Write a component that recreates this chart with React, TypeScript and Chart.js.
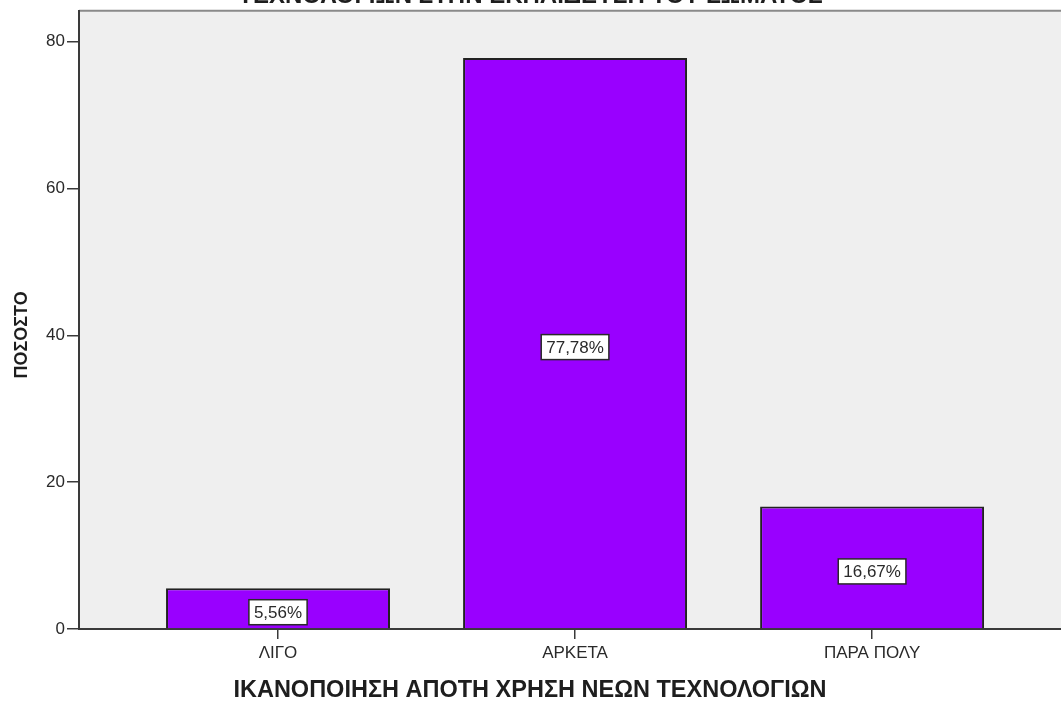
import React, { useEffect, useRef } from "react";
import { Chart, registerables } from "chart.js";

Chart.register(...registerables);

const categories = ["ΛΙΓΟ", "ΑΡΚΕΤΑ", "ΠΑΡΑ ΠΟΛΥ"];
const percentValues = [5.56, 77.78, 16.67];
const valueLabels = ["5,56%", "77,78%", "16,67%"];
const yTickValues = [0, 20, 40, 60, 80];
const chartTitle = "ΤΕΧΝΟΛΟΓΙΩΝ ΣΤΗΝ ΕΚΠΑΙΔΕΥΣΗ ΤΟΥ ΣΩΜΑΤΟΣ";
const xTitle = "ΙΚΑΝΟΠΟΙΗΣΗ ΑΠΟΤΗ ΧΡΗΣΗ ΝΕΩΝ ΤΕΧΝΟΛΟΓΙΩΝ";
const yTitle = "ΠΟΣΟΣΤΟ";

const FONT = "Arial, 'Liberation Sans', sans-serif";
const TOP_SHIFT = 20;

const bgPlugin = {
  id: "plotBg",
  beforeDraw(chart: any) {
    const { ctx, chartArea } = chart;
    ctx.save();
    ctx.fillStyle = "#efefef";
    ctx.fillRect(chartArea.left, chartArea.top, chartArea.right - chartArea.left, chartArea.bottom - chartArea.top);
    ctx.strokeStyle = "#8a8a8a";
    ctx.lineWidth = 2;
    ctx.beginPath();
    ctx.moveTo(chartArea.left, chartArea.top);
    ctx.lineTo(chartArea.right, chartArea.top);
    ctx.stroke();
    ctx.restore();
  },
};

const axisTitlePlugin = {
  id: "axisTitles",
  afterDraw(chart: any) {
    const { ctx, chartArea } = chart;
    ctx.save();
    ctx.fillStyle = "#1e1e1e";
    ctx.textAlign = "center";
    ctx.textBaseline = "middle";
    ctx.font = `bold 23.5px ${FONT}`;
    ctx.fillText(xTitle, 530, 691 + TOP_SHIFT);
    ctx.translate(22, (chartArea.top + chartArea.bottom) / 2 + 15);
    ctx.rotate(-Math.PI / 2);
    ctx.font = `bold 18px ${FONT}`;
    ctx.fillText(yTitle, 0, 0);
    ctx.restore();
  },
};

const labelPlugin = {
  id: "boxLabels",
  afterDatasetsDraw(chart: any) {
    const { ctx } = chart;
    const meta = chart.getDatasetMeta(0);
    ctx.save();
    ctx.font = `17px ${FONT}`;
    ctx.textAlign = "center";
    ctx.textBaseline = "middle";
    meta.data.forEach((el: any, i: number) => {
      const text = valueLabels[i];
      const cx = el.x;
      const cy = (el.y + el.base) / 2 + 4;
      const w = ctx.measureText(text).width + 10;
      const h = 25;
      ctx.fillStyle = "#ffffff";
      ctx.fillRect(cx - w / 2, cy - h / 2, w, h);
      ctx.strokeStyle = "#2a2a2a";
      ctx.lineWidth = 1.5;
      ctx.strokeRect(cx - w / 2, cy - h / 2, w, h);
      ctx.fillStyle = "#2a2a2a";
      ctx.fillText(text, cx, cy + 1);
    });
    ctx.restore();
  },
};

export default function App() {
  const ref = useRef<HTMLCanvasElement>(null);
  useEffect(() => {
    if (!ref.current) return;
    const chart = new Chart(ref.current, {
      type: "bar",
      data: {
        datasets: [
          {
            data: percentValues.map((v, i) => ({ x: i + 1, y: v })),
            backgroundColor: "#9900ff",
            borderColor: "#222222",
            borderWidth: 2,
            categoryPercentage: 1,
            barPercentage: 0.754,
          },
        ],
      },
      options: {
        responsive: false,
        animation: false,
        layout: { padding: 0 },
        plugins: {
          legend: { display: false },
          tooltip: { enabled: false },
          title: {
            display: true,
            text: chartTitle,
            font: { family: FONT, size: 24, weight: "bold" },
            color: "#1e1e1e",
            padding: { top: 2, bottom: 0 },
          },
        },
        scales: {
          x: {
            type: "linear",
            offset: false,
            min: 0.33,
            max: 3.636,
            afterBuildTicks(scale: any) {
              scale.ticks = categories.map((_, i) => ({ value: i + 1 }));
            },
            afterFit(scale: any) {
              scale.height = 73;
            },
            ticks: {
              autoSkip: false,
              maxRotation: 0,
              padding: 4,
              color: "#2a2a2a",
              font: { family: FONT, size: 17 },
              callback: (v: any) => categories[Math.round(v) - 1] ?? "",
            },
            grid: { offset: false, drawOnChartArea: false, tickLength: 10, color: "#3a3a3a", lineWidth: 1.5 },
            border: { color: "#3a3a3a", width: 2 },
            title: { display: false },
          },
          y: {
            min: 0,
            max: 84.2,
            afterBuildTicks(scale: any) {
              scale.ticks = yTickValues.map((v) => ({ value: v }));
            },
            afterFit(scale: any) {
              scale.width = 79;
            },
            ticks: {
              padding: 2,
              color: "#2a2a2a",
              font: { family: FONT, size: 17 },
            },
            grid: { drawOnChartArea: false, tickLength: 12, color: "#3a3a3a", lineWidth: 1.5 },
            border: { color: "#3a3a3a", width: 2 },
            title: { display: false },
          },
        },
      },
      plugins: [bgPlugin, labelPlugin, axisTitlePlugin],
    });
    return () => chart.destroy();
  }, []);

  return (
    <div style={{ position: "fixed", left: 0, top: 0, width: 1061, height: 702, overflow: "hidden", background: "#fff" }}>
      <canvas ref={ref} width={1061} height={722} style={{ position: "absolute", left: 0, top: -TOP_SHIFT, display: "block" }} />
    </div>
  );
}
